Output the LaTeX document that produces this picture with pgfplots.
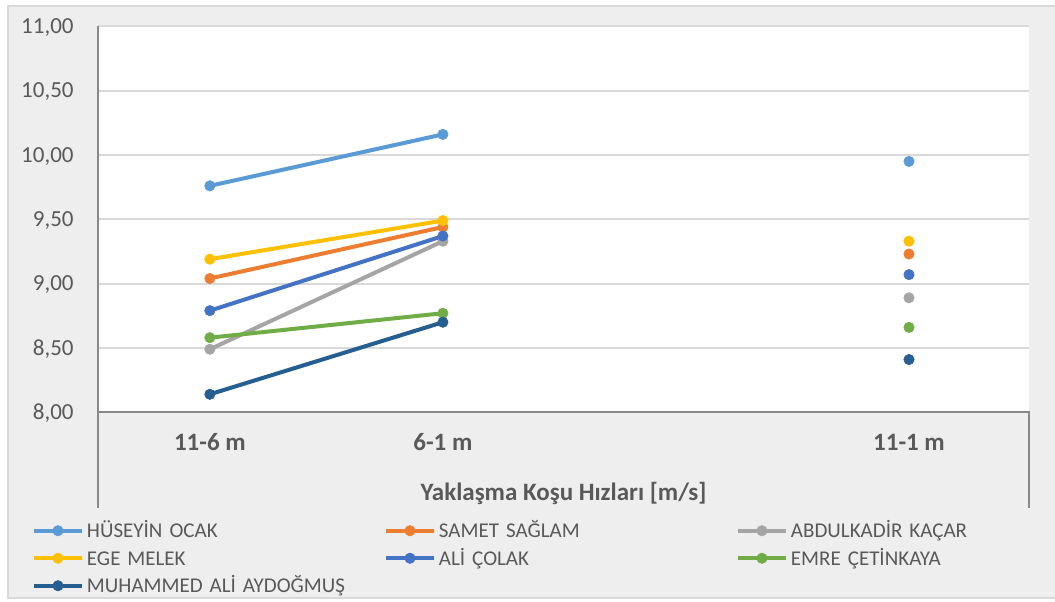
\documentclass[border=0pt]{standalone}
\usepackage{pgfplots}
\pgfplotsset{compat=1.18}
\usepackage{fontspec}
\setmainfont{Carlito}
\definecolor{c1}{HTML}{5B9BD5}
\definecolor{c2}{HTML}{ED7D31}
\definecolor{c3}{HTML}{A5A5A5}
\definecolor{c4}{HTML}{FFC000}
\definecolor{c5}{HTML}{4472C4}
\definecolor{c6}{HTML}{70AD47}
\definecolor{c7}{HTML}{255E91}
\definecolor{txt}{HTML}{595959}
\definecolor{bg}{HTML}{EEEEEE}
\definecolor{gridc}{HTML}{D9D9D9}
\definecolor{axc}{HTML}{898989}
\begin{document}
\begin{tikzpicture}
\fill[white] (0,0) rectangle (527.5pt,300.5pt);
\filldraw[fill=bg, draw=gridc, line width=0.8pt] (4pt,1.5pt) rectangle (535pt,297.5pt);
\begin{axis}[
  at={(49pt,94.35pt)}, anchor=south west,
  scale only axis, width=465.5pt, height=193pt,
  xmin=-0.48, xmax=3.515, ymin=8, ymax=11,
  axis background/.style={fill=white},
  axis line style={draw=none},
  major tick length=0pt,
  xtick={0,1,3}, xticklabels={11-6 m,6-1 m,11-1 m},
  ytick={8,8.5,9,9.5,10,10.5,11},
  yticklabel={\pgfmathprintnumber[fixed,fixed zerofill,precision=2,use comma,assume math mode=true]{\tick}},
  ymajorgrids, grid style={draw=gridc, line width=1pt},
  yticklabel style={font=\fontsize{11.5}{13}\selectfont, text=txt, anchor=base east, inner sep=0pt, xshift=-12pt, yshift=-3.6pt},
  xticklabel style={font=\fontsize{12.5}{14}\selectfont\bfseries, text=txt, anchor=base, inner sep=0pt, yshift=-19.2pt},
  xlabel={Yaklaşma Koşu Hızları [m/s]},
  xlabel style={font=\fontsize{12.5}{14}\selectfont\bfseries, text=txt, at={(axis description cs:0.5,0)}, anchor=base, inner sep=0pt, yshift=-43.85pt},
  unbounded coords=jump,
  clip=false,
  every axis plot/.append style={line width=2pt, mark=*, mark size=2.6pt},
  legend columns=3,
  legend cell align=left,
  legend style={at={(axis description cs:-0.0709,-0.2712)}, anchor=north west, draw=none, fill=none, inner sep=0pt, outer sep=0pt, column sep=0pt, row sep=0pt, font=\fontsize{10.5}{12}\selectfont,
    nodes={text=txt, inner xsep=1.5pt, inner ysep=0pt, text width=147pt, text height=10.27pt, text depth=3.48pt}},
  legend image code/.code={\draw[mark repeat=2,mark phase=2,#1] plot coordinates {(0pt,0pt) (12pt,0pt) (24pt,0pt)};},
]
\addplot[c1, mark options={solid, fill=c1, draw=c1, line width=0.3pt}] coordinates {(0,9.76) (1,10.16) (2,nan) (3,9.95)};
\addlegendentry{HÜSEYİN OCAK}
\addplot[c2, mark options={solid, fill=c2, draw=c2, line width=0.3pt}] coordinates {(0,9.04) (1,9.44) (2,nan) (3,9.23)};
\addlegendentry{SAMET SAĞLAM}
\addplot[c3, mark options={solid, fill=c3, draw=c3, line width=0.3pt}] coordinates {(0,8.49) (1,9.33) (2,nan) (3,8.89)};
\addlegendentry{ABDULKADİR KAÇAR}
\addplot[c4, mark options={solid, fill=c4, draw=c4, line width=0.3pt}] coordinates {(0,9.19) (1,9.49) (2,nan) (3,9.33)};
\addlegendentry{EGE MELEK}
\addplot[c5, mark options={solid, fill=c5, draw=c5, line width=0.3pt}] coordinates {(0,8.79) (1,9.37) (2,nan) (3,9.07)};
\addlegendentry{ALİ ÇOLAK}
\addplot[c6, mark options={solid, fill=c6, draw=c6, line width=0.3pt}] coordinates {(0,8.58) (1,8.77) (2,nan) (3,8.66)};
\addlegendentry{EMRE ÇETİNKAYA}
\addplot[c7, mark options={solid, fill=c7, draw=c7, line width=0.3pt}] coordinates {(0,8.14) (1,8.70) (2,nan) (3,8.41)};
\addlegendentry{MUHAMMED ALİ AYDOĞMUŞ}
\end{axis}
\draw[axc, line width=1pt] (49pt,287.35pt) -- (49pt,46.5pt);
\draw[axc, line width=1pt] (49pt,94.35pt) -- (514.5pt,94.35pt) -- (514.5pt,46.5pt);
\pgfresetboundingbox
\useasboundingbox (0,0) rectangle (527.5pt,300.5pt);
\end{tikzpicture}
\end{document}
